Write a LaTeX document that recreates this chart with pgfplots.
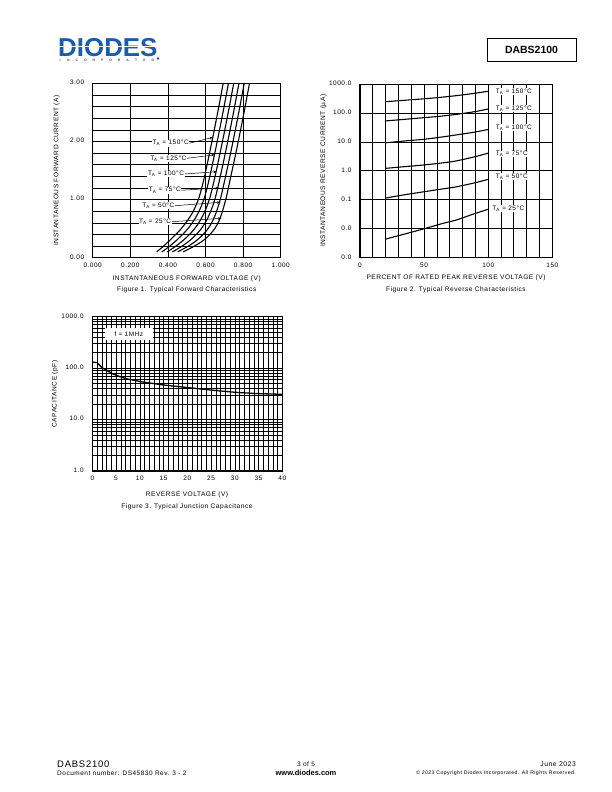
\documentclass[border=0pt]{standalone}
\usepackage{fontspec}
\setmainfont{Liberation Sans}
\newfontfamily\ds[LetterSpace=8]{Liberation Sans}
\usepackage{pgfplots}
\pgfplotsset{compat=1.18}
\usetikzlibrary{arrows.meta}
\definecolor{diodesblue}{RGB}{28,92,166}

\pgfplotsset{
  dsheet/.style={
    scale only axis,
    anchor=south west,
    axis line style={line width=0.6bp},
    tick label style={font=\ds\fontsize{6.5}{7}\selectfont},
    typeset ticklabels with strut,
    xticklabel style={yshift=-1.5bp},
    yticklabel style={xshift=-5bp},
    major tick style={draw=none},
    minor tick style={draw=none},
    grid style={black, line width=0.6bp},
    minor grid style={black, line width=0.6bp},
    /pgf/number format/assume math mode=true,
  },
}
\tikzset{
  lab/.style={font=\ds\fontsize{6.5}{7}\selectfont, fill=white, inner sep=0.6bp},
  txt/.style={font=\ds\fontsize{6.6}{7}\selectfont, inner sep=0pt},
  arr/.style={line width=0.5bp, -{Stealth[length=3.5bp,width=2.4bp]}},
}

\begin{document}
\begin{tikzpicture}
\path[use as bounding box] (0,0) rectangle (612bp,-792bp);

% ---------- header ----------
\node[text=diodesblue, font=\fontsize{26}{26}\selectfont\bfseries, inner sep=0pt, anchor=base west]
  at (58bp,-56bp) {DIODES};
\draw[white, line width=1.2bp] (56bp,-46.8bp) -- (160bp,-46.8bp);
\foreach \c [count=\i] in {I,N,C,O,R,P,O,R,A,T,E,D}
  \node[text=black!70, font=\fontsize{3.4}{4}\selectfont\bfseries, inner sep=0pt, anchor=base]
    at ({60bp+(\i-1)*8.45bp},-61.5bp) {\c};
\fill[diodesblue] (158bp,-58.5bp) circle (1.4bp);
\draw[line width=0.9bp] (487bp,-38bp) rectangle (576bp,-61bp);
\node[font=\fontsize{10.5}{11}\selectfont\bfseries, inner sep=0pt] at (531.5bp,-49.5bp) {DABS2100};

% ---------- Figure 1 ----------
\begin{axis}[dsheet, name=f1,
  at={(92.7bp,-257.7bp)}, width=188bp, height=174.4bp,
  xmin=0, xmax=1, ymin=0, ymax=3,
  xtick={0,0.2,0.4,0.6,0.8,1},
  xticklabels={0.000,0.200,0.400,0.600,0.800,1.000},
  ytick={0,1,2,3}, yticklabels={0.00,1.00,2.00,3.00},
  minor ytick={0.2,0.4,0.6,0.8,1.2,1.4,1.6,1.8,2.2,2.4,2.6,2.8},
  xmajorgrids, ymajorgrids, yminorgrids,
]
% T_A = 150, 125, 100, 75, 50, 25 C
\addplot[black, line width=1.1bp, smooth] coordinates {(0.340,0.10)(0.370,0.18)(0.410,0.30)(0.460,0.46)(0.500,0.62)(0.535,0.80)(0.565,1.03)(0.590,1.33)(0.615,1.70)(0.640,2.09)(0.665,2.50)(0.690,2.93)(0.700,3.10)};
\addplot[black, line width=1.1bp, smooth] coordinates {(0.368,0.10)(0.402,0.18)(0.446,0.30)(0.496,0.46)(0.534,0.62)(0.566,0.80)(0.594,1.03)(0.618,1.33)(0.643,1.70)(0.668,2.09)(0.693,2.50)(0.718,2.93)(0.728,3.10)};
\addplot[black, line width=1.1bp, smooth] coordinates {(0.396,0.10)(0.434,0.18)(0.482,0.30)(0.532,0.46)(0.568,0.62)(0.597,0.80)(0.623,1.03)(0.646,1.33)(0.671,1.70)(0.696,2.09)(0.721,2.50)(0.746,2.93)(0.756,3.10)};
\addplot[black, line width=1.1bp, smooth] coordinates {(0.424,0.10)(0.466,0.18)(0.518,0.30)(0.568,0.46)(0.602,0.62)(0.628,0.80)(0.652,1.03)(0.674,1.33)(0.699,1.70)(0.724,2.09)(0.749,2.50)(0.774,2.93)(0.784,3.10)};
\addplot[black, line width=1.1bp, smooth] coordinates {(0.452,0.10)(0.498,0.18)(0.554,0.30)(0.604,0.46)(0.636,0.62)(0.659,0.80)(0.681,1.03)(0.702,1.33)(0.727,1.70)(0.752,2.09)(0.777,2.50)(0.802,2.93)(0.812,3.10)};
\addplot[black, line width=1.1bp, smooth] coordinates {(0.480,0.10)(0.530,0.18)(0.590,0.30)(0.640,0.46)(0.670,0.62)(0.690,0.80)(0.710,1.03)(0.730,1.33)(0.755,1.70)(0.780,2.09)(0.805,2.50)(0.830,2.93)(0.840,3.10)};
\node[lab] (a1) at (axis cs:0.415,1.97) {T\textsubscript{A} = 150°C};
\node[lab] (a2) at (axis cs:0.402,1.71) {T\textsubscript{A} = 125°C};
\node[lab] (a3) at (axis cs:0.390,1.44) {T\textsubscript{A} = 100°C};
\node[lab] (a4) at (axis cs:0.384,1.16) {T\textsubscript{A} = 75°C};
\node[lab] (a5) at (axis cs:0.349,0.895) {T\textsubscript{A} = 50°C};
\node[lab] (a6) at (axis cs:0.332,0.619) {T\textsubscript{A} = 25°C};
\draw[arr] (a1.east) -- (axis cs:0.640,2.07);
\draw[arr] (a2.east) -- (axis cs:0.650,1.77);
\draw[arr] (a3.east) -- (axis cs:0.660,1.48);
\draw[arr] (a4.east) -- (axis cs:0.672,1.20);
\draw[arr] (a5.east) -- (axis cs:0.680,0.953);
\draw[arr] (a6.east) -- (axis cs:0.685,0.678);
\end{axis}
\draw[line width=1.3bp] (f1.north west) -- (f1.south west) -- (f1.south east);
\node[txt, rotate=90] at (56.7bp,-170.5bp) {INSTANTANEOUS FORWARD CURRENT (A)};
\node[txt] at (186.7bp,-278.3bp) {INSTANTANEOUS FORWARD VOLTAGE (V)};
\node[txt] at (186.7bp,-290bp) {Figure 1. Typical Forward Characteristics};

% ---------- Figure 2 ----------
\begin{axis}[dsheet, name=f2,
  at={(360bp,-257.7bp)}, width=192.3bp, height=173.7bp,
  xmin=0, xmax=150, ymode=log, ymin=0.001, ymax=1000,
  xtick={0,50,100,150},
  minor xtick={10,20,30,40,60,70,80,90,110,120,130,140},
  ytick={0.001,0.01,0.1,1,10,100,1000},
  yticklabels={0.0,0.0,0.1,1.0,10.0,100.0,1000.0},
  xmajorgrids, xminorgrids, ymajorgrids,
  grid style={black, line width=0.8bp},
  minor grid style={black, line width=0.8bp},
]
\addplot[black, line width=1.1bp, smooth] coordinates {(20,245)(40,285)(60,337)(80,420)(100,560)};
\addplot[black, line width=1.1bp, smooth] coordinates {(20,53)(40,63)(50,69)(60,75)(75,89)(90,112)(100,137)};
\addplot[black, line width=1.1bp, smooth] coordinates {(20,9.3)(35,10.8)(50,12.3)(65,15)(75,17.4)(90,22)(100,27)};
\addplot[black, line width=1.1bp, smooth] coordinates {(20,1.22)(35,1.4)(50,1.6)(65,1.9)(75,2.2)(90,3.1)(100,4.1)};
\addplot[black, line width=1.1bp, smooth] coordinates {(20,0.115)(35,0.15)(50,0.19)(65,0.24)(75,0.28)(90,0.39)(100,0.51)};
\addplot[black, line width=1.1bp, smooth] coordinates {(20,0.0044)(35,0.0066)(50,0.010)(65,0.0155)(75,0.020)(90,0.034)(100,0.047)};
\node[lab, anchor=west] at (axis cs:105.3,543) {T\textsubscript{A} = 150°C};
\node[lab, anchor=west] at (axis cs:105.3,143.6) {T\textsubscript{A} = 125°C};
\node[lab, anchor=west] at (axis cs:105.3,30.7) {T\textsubscript{A} = 100°C};
\node[lab, anchor=west] at (axis cs:105.3,3.82) {T\textsubscript{A} = 75°C};
\node[lab, anchor=west] at (axis cs:105.3,0.63) {T\textsubscript{A} = 50°C};
\node[lab, anchor=west] at (axis cs:102.7,0.0507) {T\textsubscript{A} = 25°C};
\end{axis}
\draw[line width=1.3bp] (f2.north west) -- (f2.south west) -- (f2.south east);
\node[txt, rotate=90] at (323.3bp,-170.8bp) {INSTANTANEOUS REVERSE CURRENT (µA)};
\node[txt] at (456bp,-277.7bp) {PERCENT OF RATED PEAK REVERSE VOLTAGE (V)};
\node[txt] at (456bp,-290bp) {Figure 2. Typical Reverse Characteristics};

% ---------- Figure 3 ----------
\begin{axis}[dsheet, name=f3,
  at={(92.3bp,-471bp)}, width=190bp, height=154.3bp,
  xmin=0, xmax=40, ymode=log, ymin=1, ymax=1000,
  xtick={0,5,10,15,20,25,30,35,40},
  minor xtick={1,2,3,4,6,7,8,9,11,12,13,14,16,17,18,19,21,22,23,24,26,27,28,29,31,32,33,34,36,37,38,39},
  ytick={1,10,100,1000}, yticklabels={1.0,10.0,100.0,1000.0},
  xmajorgrids, xminorgrids, ymajorgrids, yminorgrids,
]
\addplot[black, line width=1.3bp, smooth] coordinates {(0,130)(0.5,130)(1,128)(1.5,115)(2,103)(3,91)(4,80)(5,73)(7,63)(10,55)(13,50)(15,47)(20,42)(25,37.5)(30,34)(35,32)(40,31)};
\node[lab, minimum width=48bp, minimum height=11.7bp] at (axis cs:7.7,461) {f = 1MHz};
\end{axis}
\draw[line width=1.3bp] (f3.north west) -- (f3.south west) -- (f3.south east) -- (f3.north east);
\node[txt, rotate=90] at (55bp,-394bp) {CAPACITANCE (pF)};
\node[txt] at (187bp,-495bp) {REVERSE VOLTAGE (V)};
\node[txt] at (187bp,-507bp) {Figure 3. Typical Junction Capacitance};

% ---------- footer ----------
\node[font=\ds\fontsize{9.5}{10}\selectfont, anchor=base west, inner sep=0pt] at (57bp,-767bp) {DABS2100};
\node[font=\ds\fontsize{6.5}{7}\selectfont, anchor=base west, inner sep=0pt] at (57bp,-775.5bp) {Document number: DS45830 Rev. 3 - 2};
\node[font=\ds\fontsize{6.5}{7}\selectfont, anchor=base, inner sep=0pt] at (306bp,-766bp) {3 of 5};
\node[font=\fontsize{7.5}{8}\selectfont\bfseries, anchor=base, inner sep=0pt] at (306bp,-775.5bp) {www.diodes.com};
\node[font=\ds\fontsize{6.8}{7}\selectfont, anchor=base east, inner sep=0pt] at (576bp,-766bp) {June 2023};
\node[font=\ds\fontsize{5.2}{6}\selectfont, anchor=base east, inner sep=0pt] at (576bp,-774.5bp) {© 2023 Copyright Diodes Incorporated. All Rights Reserved.};
\end{tikzpicture}
\end{document}
